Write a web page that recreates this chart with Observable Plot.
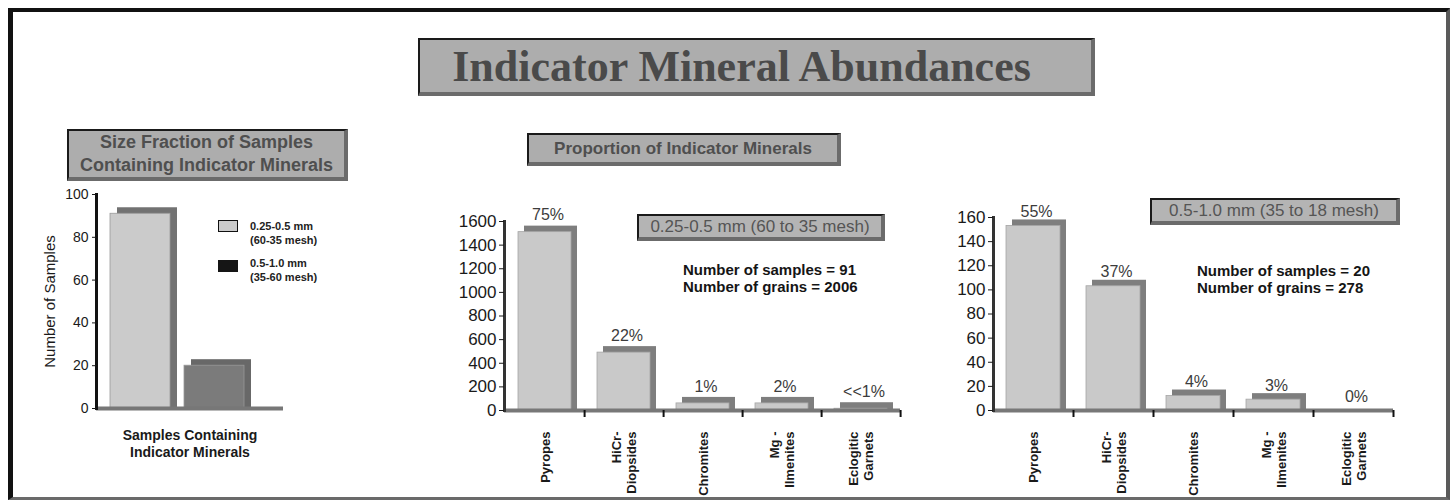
<!DOCTYPE html>
<html>
<head>
<meta charset="utf-8">
<script src="https://cdn.jsdelivr.net/npm/d3@7"></script>
<script src="https://cdn.jsdelivr.net/npm/@observablehq/plot@0.6"></script>
<style>
  html,body{margin:0;padding:0;background:#fff;}
  #page{position:relative;width:1455px;height:504px;overflow:hidden;background:#fff;font-family:"Liberation Sans",Arial,Helvetica,sans-serif;}
  #frame{position:absolute;left:8px;top:8px;width:1433px;height:485px;border-top:4px solid #111;border-left:5px solid #111;border-right:4px solid #5a5a5a;border-bottom:3px solid #6a6a6a;}
  .box{position:absolute;box-sizing:border-box;background:#adadad;border-top:2px solid #1a1a1a;border-left:2px solid #1a1a1a;border-right:4px solid #6b6b6b;border-bottom:4px solid #6b6b6b;display:flex;align-items:center;justify-content:center;text-align:center;color:#4f4f4f;}
  #title{left:418px;top:38px;width:677px;height:58px;font-family:"Liberation Serif","Times New Roman",serif;font-weight:bold;font-size:44px;color:#4a4a4a;padding-right:28px;}
  #sub1{left:67px;top:129px;width:281px;height:52px;font-weight:bold;font-size:18px;line-height:23px;}
  #sub2{left:527px;top:133px;width:314px;height:33px;font-weight:bold;font-size:17px;}
  .tag{font-size:17px;color:#555;background:#b4b4b4;white-space:nowrap;}
  #tag1{left:637px;top:214px;width:248px;height:27px;}
  #tag2{left:1150px;top:198px;width:250px;height:27px;}
  .stats{position:absolute;font-weight:bold;font-size:15px;line-height:16.5px;color:#151515;white-space:pre;}
  .chart{position:absolute;}
  .sw{position:absolute;box-sizing:border-box;}
  .lg{position:absolute;font-size:11px;font-weight:bold;line-height:13.5px;color:#222;white-space:pre;}
</style>
</head>
<body>
<div id="page">
  <div id="frame"></div>
  <div id="title" class="box">Indicator Mineral Abundances</div>
  <div id="sub1" class="box">Size Fraction of Samples<br>Containing Indicator Minerals</div>
  <div id="sub2" class="box">Proportion of Indicator Minerals</div>
  <div id="chartLeft" class="chart" style="left:20px;top:185px;"></div>
  <div id="chartMid" class="chart" style="left:430px;top:195px;"></div>
  <div id="chartRight" class="chart" style="left:940px;top:195px;"></div>
  <div id="tag1" class="box tag"></div>
  <div id="tag2" class="box tag"></div>
  <div id="stats1" class="stats" style="left:683px;top:262px;"></div>
  <div id="stats2" class="stats" style="left:1197px;top:263px;"></div>
  <div class="sw" style="left:218px;top:220px;width:20px;height:12px;background:#cbcbcb;border:1.5px solid #111;"></div>
  <div id="lg1" class="lg" style="left:250px;top:220px;"></div>
  <div class="sw" style="left:218px;top:260px;width:20px;height:12px;background:#151515;"></div>
  <div id="lg2" class="lg" style="left:250px;top:257px;"></div>
</div>
<script>
// ---- data ----
const sizeFractions = ["0.25-0.5 mm", "0.5-1.0 mm"];
const sizeMesh = ["(60-35 mesh)", "(35-60 mesh)"];
const sampleCounts = [91, 20];
const sizeTicks = [0, 20, 40, 60, 80, 100];
const leftXLabel = "Samples Containing\nIndicator Minerals";
const leftYLabel = "Number of Samples";

const minerals = ["Pyropes", "HiCr-\nDiopsides", "Chromites", "Mg -\nIlmenites", "Eclogitic\nGarnets"];
const fineGrains = [1510, 490, 60, 60, 15];
const finePct = ["75%", "22%", "1%", "2%", "<<1%"];
const fineTicks = [0, 200, 400, 600, 800, 1000, 1200, 1400, 1600];
const coarseGrains = [153, 103, 12, 9, 0];
const coarsePct = ["55%", "37%", "4%", "3%", "0%"];
const coarseTicks = [0, 20, 40, 60, 80, 100, 120, 140, 160];
const grainTotals = [2006, 278];
const tagLabels = ["0.25-0.5 mm (60 to 35 mesh)", "0.5-1.0 mm (35 to 18 mesh)"];

// ---- styles ----
const FONT = "Liberation Sans, Arial, Helvetica, sans-serif";
const FACE = "#c9c9c9";
const SIDE = "#7e7e7e";
const sizeFace = ["#cbcbcb", "#7b7b7b"];
const sizeSide = ["#727272", "#686868"];

// ---- html texts ----
document.getElementById("tag1").textContent = tagLabels[0];
document.getElementById("tag2").textContent = tagLabels[1];
document.getElementById("stats1").textContent = `Number of samples = ${sampleCounts[0]}\nNumber of grains = ${grainTotals[0]}`;
document.getElementById("stats2").textContent = `Number of samples = ${sampleCounts[1]}\nNumber of grains = ${grainTotals[1]}`;
document.getElementById("lg1").textContent = `${sizeFractions[0]}\n${sizeMesh[0]}`;
document.getElementById("lg2").textContent = `${sizeFractions[1]}\n${sizeMesh[1]}`;

// ---- left chart ----
const sizeData = sizeFractions.map((s, i) => ({s, v: sampleCounts[i], i}));
const left = Plot.plot({
  width: 280, height: 290,
  marginLeft: 76, marginRight: 17, marginTop: 9, marginBottom: 67,
  style: {fontFamily: FONT, fontSize: "14px", color: "#1a1a1a", background: "transparent", overflow: "visible"},
  x: {domain: sizeFractions, range: [90, 224], paddingInner: 0.19, paddingOuter: 0, axis: null},
  y: {domain: [0, 100]},
  color: {type: "identity"},
  marks: [
    Plot.barY(sizeData, {x: "s", y: "v", fill: d => sizeSide[d.i], dx: 7, dy: -6, insetBottom: -6}),
    Plot.barY(sizeData, {x: "s", y: "v", fill: d => sizeFace[d.i], stroke: "#9a9a9a", strokeWidth: 0.8}),
    Plot.ruleY([0], {stroke: "#777", strokeWidth: 4}),
    Plot.frame({anchor: "left", stroke: "#111", strokeWidth: 3}),
    Plot.axisY({ticks: sizeTicks, tickSize: 4, tickPadding: 4, fontSize: 14, label: null}),
    Plot.text([leftYLabel], {frameAnchor: "left", rotate: -90, textAnchor: "middle", lineAnchor: "middle", dx: -46, fontSize: 15, fill: "#1a1a1a"}),
    Plot.text([leftXLabel], {frameAnchor: "bottom", textAnchor: "middle", lineAnchor: "top", dy: 20, fontSize: 14, fontWeight: "bold", lineHeight: 1.2, fill: "#1a1a1a"})
  ]
});
document.getElementById("chartLeft").append(left);

// ---- mineral charts ----
function mineralChart(cfg) {
  const data = minerals.map((m, i) => ({m, v: cfg.values[i], p: cfg.pct[i]}));
  const step = (cfg.width - cfg.ml - cfg.mr) / minerals.length;
  return Plot.plot({
    width: cfg.width, height: cfg.height,
    marginLeft: cfg.ml, marginRight: cfg.mr, marginTop: cfg.mt, marginBottom: cfg.mb,
    style: {fontFamily: FONT, fontSize: "17px", color: "#1a1a1a", background: "transparent", overflow: "visible"},
    x: {domain: minerals, paddingInner: 0.33, paddingOuter: 0.165, axis: null},
    y: {domain: [0, cfg.yMax]},
    marks: [
      Plot.barY(data.filter(d => d.v > 0), {x: "m", y: "v", fill: SIDE, dx: 6, dy: -6, insetBottom: -6}),
      Plot.barY(data, {x: "m", y: "v", fill: FACE, stroke: "#a5a5a5", strokeWidth: 0.8}),
      Plot.ruleY([0], {stroke: "#787878", strokeWidth: 4}),
      Plot.ruleX(minerals, {x: d => d, dx: step / 2, y1: 0, y2: 0, insetBottom: -7, stroke: "#111", strokeWidth: 2}),
      Plot.frame({anchor: "left", stroke: "#333", strokeWidth: 3}),
      Plot.axisY({ticks: cfg.ticks, tickFormat: d => String(d), tickSize: 5, tickPadding: 3, fontSize: 17, label: null}),
      Plot.text(data, {x: "m", y: "v", text: "p", dx: 3, dy: cfg.pctDy, fontSize: 16, fill: "#3c3c3c"}),
      Plot.text(minerals, {x: d => d, frameAnchor: "bottom", rotate: -90, textAnchor: "end", lineAnchor: "middle", dy: 21, fontSize: 13, fontWeight: "bold", lineHeight: 1.15, fill: "#1a1a1a"})
    ]
  });
}

document.getElementById("chartMid").append(mineralChart({
  values: fineGrains, pct: finePct, ticks: fineTicks, yMax: 1600,
  width: 480, height: 300, ml: 74, mr: 10, mt: 26, mb: 85, pctDy: -17
}));
document.getElementById("chartRight").append(mineralChart({
  values: coarseGrains, pct: coarsePct, ticks: coarseTicks, yMax: 160,
  width: 470, height: 300, ml: 53, mr: 17, mt: 22, mb: 85, pctDy: -14
}));
</script>
</body>
</html>
